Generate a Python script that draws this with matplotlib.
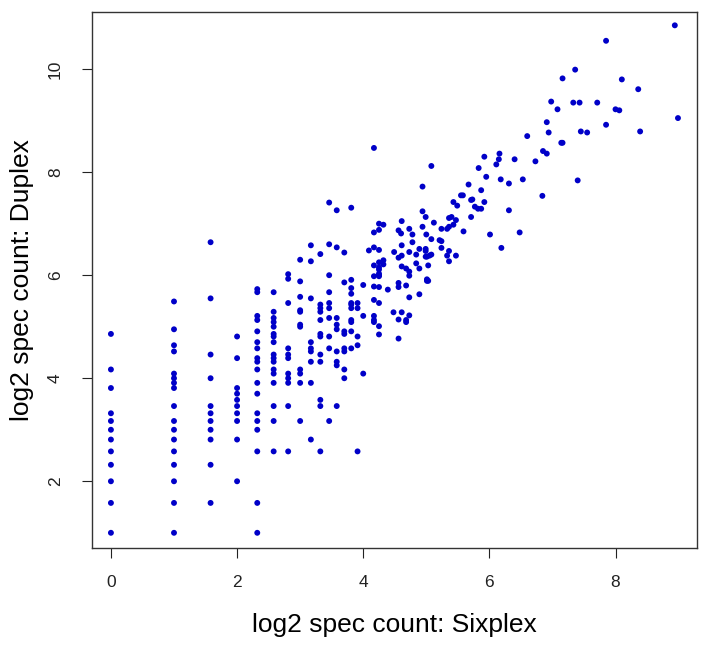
import numpy as np
import matplotlib
matplotlib.use('Agg')
import matplotlib.pyplot as plt

# -- low counts: sixplex value of each column and the duplex values stacked in it
col_x = [0.0, 1.0, 1.58, 2.0, 2.32, 2.58, 2.81, 3.0, 3.17, 3.32, 3.46, 3.58,
         3.70, 3.81, 3.91, 4.0, 4.09, 4.17, 4.25, 4.32, 4.39]
col_y = [
    [4.86, 4.17, 3.81, 3.32, 3.17, 3.00, 2.81, 2.58, 2.32, 2.00, 1.58, 1.00],
    [5.49, 4.95, 4.64, 4.52, 4.09, 4.00, 3.91, 3.81, 3.46, 3.17, 3.00, 2.81,
     2.58, 2.32, 2.00, 1.58, 1.00],
    [6.64, 5.55, 4.46, 4.00, 3.46, 3.32, 3.17, 3.00, 2.81, 2.32, 1.58],
    [4.81, 4.39, 3.81, 3.70, 3.58, 3.46, 3.32, 3.17, 2.81, 2.00],
    [5.73, 5.67, 5.21, 5.13, 4.91, 4.70, 4.58, 4.39, 4.32, 4.17, 3.91, 3.70,
     3.32, 3.17, 3.00, 2.58, 1.58, 1.00],
    [5.67, 5.29, 5.17, 5.09, 5.00, 4.86, 4.81, 4.70, 4.46, 4.39, 4.32, 4.17,
     4.09, 3.91, 3.46, 3.17, 2.58],
    [6.02, 5.93, 5.46, 4.58, 4.46, 4.39, 4.09, 4.00, 3.91, 3.46, 2.58],
    [6.30, 5.88, 5.58, 5.32, 5.29, 5.04, 5.00, 4.17, 4.09, 3.91, 3.17],
    [6.58, 6.27, 5.55, 4.70, 4.58, 4.52, 4.32, 3.91, 2.81],
    [6.41, 5.43, 5.36, 5.29, 5.13, 4.86, 4.81, 4.46, 4.32, 3.58, 3.46, 2.58],
    [7.41, 6.60, 6.00, 5.67, 5.46, 5.36, 5.17, 4.81, 4.58, 3.17],
    [7.26, 6.54, 5.17, 5.04, 4.95, 4.52, 4.32, 4.25, 3.46],
    [6.44, 5.86, 4.91, 4.86, 4.58, 4.52, 4.17, 4.00],
    [7.31, 5.91, 5.75, 5.64, 5.46, 5.43, 5.36, 5.13, 5.09, 4.91, 4.58],
    [5.46, 5.36, 4.81, 4.64, 2.58],
    [5.81, 5.21, 4.09],
    [6.48],
    [8.47, 6.83, 6.54, 6.19, 5.98, 5.78, 5.52, 5.21, 5.13, 5.09],
    [7.00, 6.88, 6.49, 6.25, 6.15, 6.11, 6.03, 6.00, 5.98, 5.77, 5.46, 5.01, 4.85],
    [6.98, 6.29, 6.21],
    [5.72],
]

# -- higher counts, read point by point
hi_x = [4.61, 4.56, 4.73, 4.60, 4.78, 4.61, 4.49, 4.73, 4.78, 4.61, 4.56, 4.84,
        4.84, 4.61, 4.68, 4.73, 4.73, 4.89, 4.89, 4.94, 4.94, 4.94, 4.99, 5.00,
        4.99, 4.99, 5.05, 4.99, 5.01, 5.03, 5.01, 5.08, 5.08, 5.08, 5.12, 5.21,
        5.24, 5.24, 5.24, 5.33, 5.36, 5.36, 5.40, 5.36, 5.43, 5.36, 5.33, 5.43,
        5.47, 5.47, 5.49, 5.55, 5.58, 5.59, 5.67, 5.71, 5.73, 5.71, 5.77, 5.82,
        5.87, 5.83, 5.87, 5.92, 5.92, 5.95, 6.01, 6.11, 6.15, 6.16, 6.18, 6.19,
        6.31, 6.31, 6.40, 6.48, 6.53, 6.60,
        5.01, 5.03, 4.56, 4.56, 4.68, 4.89, 4.73, 4.48, 4.61, 4.73, 4.56, 4.68,
        4.68, 4.56,
        8.94, 7.85, 7.36, 7.16, 8.10, 8.36, 6.98, 7.33, 7.43, 7.71, 7.08, 8.00,
        8.06, 8.99, 6.91, 7.85, 6.94, 7.45, 7.55, 8.39, 7.16, 7.14, 6.85, 6.91,
        6.73, 7.40, 6.84]
hi_y = [7.05, 6.87, 6.90, 6.81, 6.79, 6.58, 6.45, 6.45, 6.64, 6.38, 6.34, 6.40,
        6.23, 6.17, 6.13, 6.07, 5.99, 6.13, 6.51, 7.72, 7.24, 6.94, 7.13, 6.79,
        6.51, 6.47, 6.38, 6.36, 6.36, 6.19, 5.92, 8.12, 6.70, 6.40, 7.02, 6.68,
        6.66, 6.90, 6.53, 6.38, 6.47, 6.27, 7.13, 7.11, 6.98, 6.94, 6.90, 7.42,
        7.07, 6.38, 7.35, 7.55, 7.55, 6.85, 7.76, 7.13, 7.47, 7.46, 7.33, 7.29,
        7.29, 8.08, 7.65, 8.30, 7.42, 7.91, 6.79, 8.15, 8.25, 8.36, 7.86, 6.53,
        7.78, 7.26, 8.25, 6.83, 7.86, 8.70,
        5.89, 5.89, 5.85, 5.77, 5.80, 5.63, 5.57, 5.28, 5.28, 5.22, 5.14, 5.13,
        5.09, 4.77,
        10.85, 10.55, 9.99, 9.82, 9.80, 9.61, 9.37, 9.35, 9.35, 9.35, 9.22, 9.22,
        9.20, 9.05, 8.97, 8.92, 8.77, 8.79, 8.77, 8.79, 8.57, 8.57, 8.41, 8.36,
        8.21, 7.84, 7.54]

x_ticks = [0, 2, 4, 6, 8]
y_ticks = [2, 4, 6, 8, 10]

sixplex = []
duplex = []
for cx, ys in zip(col_x, col_y):
    sixplex += [cx] * len(ys)
    duplex += ys
sixplex = np.array(sixplex + hi_x)
duplex = np.array(duplex + hi_y)

plt.rcParams['font.family'] = ['Liberation Sans', 'DejaVu Sans']

fig = plt.figure(figsize=(7.05, 6.45), dpi=100)
ax = fig.add_axes([0.1305, 0.150, 0.858, 0.8315])

ax.scatter(sixplex, duplex, s=18, color='#0000c8', edgecolors='none')

ax.set_xlim(-0.30, 9.29)
ax.set_ylim(0.70, 11.11)
ax.set_xticks(x_ticks)
ax.set_yticks(y_ticks)
ax.tick_params(direction='out', length=7, width=0.8, labelsize=12.5, colors='#222222')
ax.tick_params(axis='x', pad=12)
ax.tick_params(axis='y', pad=14)
for lab in ax.get_yticklabels():
    lab.set_rotation(90)
    lab.set_va('center')
for s in ax.spines.values():
    s.set_linewidth(1.0)
    s.set_color('#333333')

ax.set_xlabel('log2 spec count: Sixplex', fontsize=19, labelpad=17)
ax.set_ylabel('log2 spec count: Duplex', fontsize=19, labelpad=10)

fig.savefig('out.png', dpi=100)
